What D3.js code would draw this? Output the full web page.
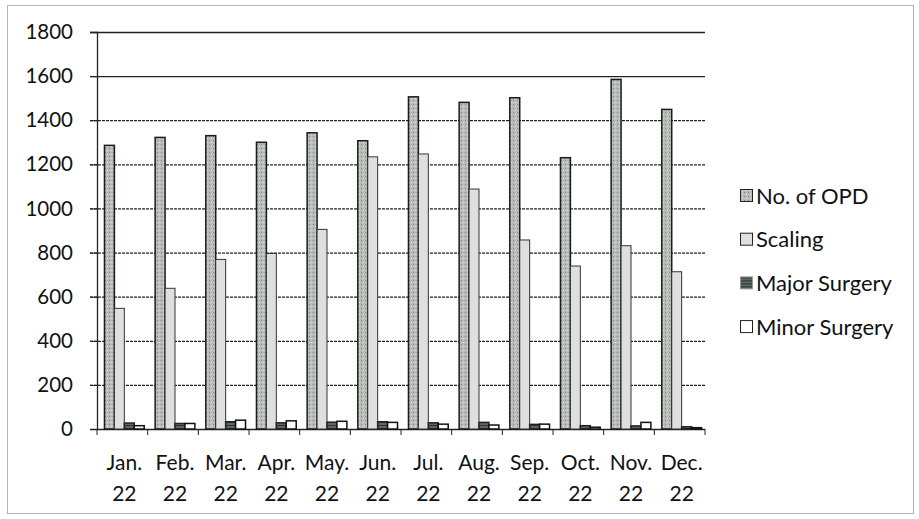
<!DOCTYPE html>
<html>
<head>
<meta charset="utf-8">
<script src="https://cdn.jsdelivr.net/npm/d3@7"></script>
<style>
  body { margin: 0; background: #fff; }
  text { font-family: Lato, "Open Sans", sans-serif; fill: #111; }
</style>
</head>
<body>
<div id="chart"></div>
<script>
const months = ["Jan.", "Feb.", "Mar.", "Apr.", "May.", "Jun.", "Jul.", "Aug.", "Sep.", "Oct.", "Nov.", "Dec."];
const years = ["22", "22", "22", "22", "22", "22", "22", "22", "22", "22", "22", "22"];
const seriesNames = ["No. of OPD", "Scaling", "Major Surgery", "Minor Surgery"];
const opd = [1286, 1322, 1330, 1300, 1343, 1307, 1506, 1481, 1502, 1230, 1585, 1449];
const scaling = [547, 638, 769, 796, 905, 1234, 1247, 1088, 857, 739, 831, 713];
const major = [27, 25, 33, 28, 31, 33, 28, 30, 21, 15, 14, 10];
const minor = [15, 25, 40, 37, 35, 30, 22, 18, 22, 8, 30, 6];
const yTicks = [0, 200, 400, 600, 800, 1000, 1200, 1400, 1600, 1800];

const W = 919, H = 519;
const margin = {top: 32, right: 214, bottom: 90, left: 97};
const width = W - margin.left - margin.right;
const height = H - margin.top - margin.bottom;

const svg = d3.select("#chart").append("svg")
    .attr("width", W)
    .attr("height", H);

// textured fills
const defs = svg.append("defs");
const p1 = defs.append("pattern").attr("id", "pOpd")
    .attr("width", 4).attr("height", 4).attr("patternUnits", "userSpaceOnUse");
p1.append("rect").attr("width", 4).attr("height", 4).attr("fill", "#b9bdb9");
p1.append("rect").attr("x", 0).attr("y", 0).attr("width", 1).attr("height", 1).attr("fill", "#7d8580");
p1.append("rect").attr("x", 2).attr("y", 2).attr("width", 1).attr("height", 1).attr("fill", "#e4e6e4");
const p3 = defs.append("pattern").attr("id", "pMajor")
    .attr("width", 3).attr("height", 3).attr("patternUnits", "userSpaceOnUse");
p3.append("rect").attr("width", 3).attr("height", 3).attr("fill", "#5b6863");
p3.append("rect").attr("width", 3).attr("height", 1).attr("fill", "#2c3531");

const fills = ["url(#pOpd)", "#dedfde", "url(#pMajor)", "#ffffff"];
const strokes = ["#1a1a1a", "#333", "#222", "#111"];

// outer frame
svg.append("rect")
    .attr("x", 7.5).attr("y", 5.5)
    .attr("width", 906).attr("height", 508)
    .attr("fill", "none")
    .attr("stroke", "#666")
    .attr("stroke-dasharray", "1,1");

const g = svg.append("g")
    .attr("transform", `translate(${margin.left},${margin.top})`);

const x = d3.scaleBand()
    .domain(months)
    .range([0, width]);

const y = d3.scaleLinear()
    .domain([0, 1800])
    .range([height, 0]);

// gridlines
g.append("g")
    .selectAll("line")
    .data(yTicks.slice(1))
    .join("line")
    .attr("x1", -7).attr("x2", width)
    .attr("y1", d => y(d) + 0.5).attr("y2", d => y(d) + 0.5)
    .attr("stroke", "#222")
    .attr("stroke-width", 1.3)
    .attr("stroke-dasharray", d => d >= 1600 ? null : "3,1");

// y axis
const yAxis = g.append("g")
    .call(d3.axisLeft(y).tickValues(yTicks).tickFormat(d3.format("d")).tickSize(7).tickPadding(17));
yAxis.select(".domain").attr("stroke", "#222").attr("stroke-width", 1.3);
yAxis.selectAll(".tick line").attr("stroke", "#222");
yAxis.selectAll(".tick text")
    .attr("font-size", 20.5)
    .attr("font-family", "Lato, sans-serif")
    .attr("fill", "#111");

// x axis with ticks at category boundaries
const xAxisG = g.append("g")
    .attr("transform", `translate(0,${height})`);
xAxisG.append("line")
    .attr("x1", 0).attr("x2", width)
    .attr("y1", 0.5).attr("y2", 0.5)
    .attr("stroke", "#222").attr("stroke-width", 1.3);
xAxisG.selectAll(".xt")
    .data(months.concat(["end"]))
    .join("line")
    .attr("class", "xt")
    .attr("x1", (d, i) => i * x.step()).attr("x2", (d, i) => i * x.step())
    .attr("y1", 0).attr("y2", 6)
    .attr("stroke", "#222");

const labels = xAxisG.selectAll(".xl")
    .data(months)
    .join("text")
    .attr("class", "xl")
    .attr("text-anchor", "middle")
    .attr("font-size", 21)
    .attr("x", d => x(d) + x.bandwidth() / 2);
labels.append("tspan").attr("x", d => x(d) + x.bandwidth() / 2 + 2).attr("y", 41).text(d => d);
labels.append("tspan").attr("x", d => x(d) + x.bandwidth() / 2 + 2).attr("y", 72).text((d, i) => years[i]);

// bars
const series = [opd, scaling, major, minor];
const inner = d3.scaleBand()
    .domain(d3.range(series.length))
    .range([2, x.bandwidth() + 2])
    .paddingOuter(0.55);

series.forEach((vals, s) => {
    g.append("g")
        .selectAll("rect")
        .data(vals)
        .join("rect")
        .attr("x", (d, i) => x(months[i]) + inner(s))
        .attr("y", d => y(d))
        .attr("width", inner.bandwidth())
        .attr("height", d => y(0) - y(d))
        .attr("fill", fills[s])
        .attr("stroke", strokes[s])
        .attr("stroke-width", s === 1 ? 1 : 1.5);
});

// legend
const legend = svg.append("g")
    .attr("transform", "translate(740,196)");
const li = legend.selectAll("g")
    .data(seriesNames)
    .join("g")
    .attr("transform", (d, i) => `translate(0,${i * 43.7})`);
li.append("rect")
    .attr("x", 0.5).attr("y", -6.5)
    .attr("width", 12).attr("height", 12)
    .attr("fill", (d, i) => fills[i])
    .attr("stroke", (d, i) => i === 2 ? "#999" : "#222");
li.append("text")
    .attr("x", 16)
    .attr("y", 7.5)
    .attr("font-size", 22)
    .text(d => d);
</script>
</body>
</html>
